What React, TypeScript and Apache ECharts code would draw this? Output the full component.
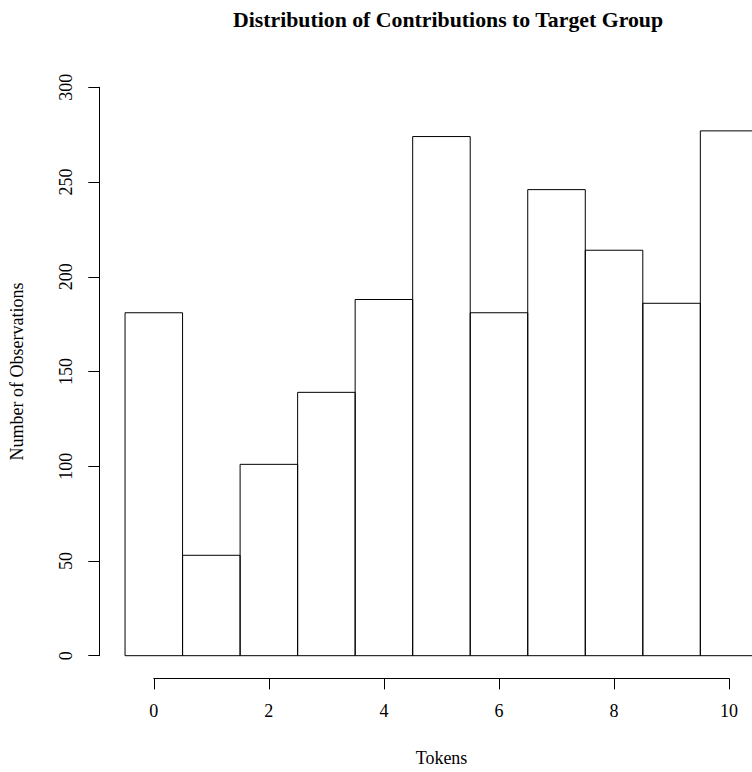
import React, { useEffect, useRef } from "react";
import * as echarts from "echarts";

const tokens = [0, 1, 2, 3, 4, 5, 6, 7, 8, 9, 10];
const counts = [181, 53, 101, 139, 188, 274, 181, 246, 214, 186, 277];
const xTicks = [0, 2, 4, 6, 8, 10];
const yTicks = [0, 50, 100, 150, 200, 250, 300];

const titleText = "Distribution of Contributions to Target Group";
const xLabel = "Tokens";
const yLabel = "Number of Observations";

const FONT = '"Liberation Serif", "Times New Roman", Times, serif';

export default function App() {
  const ref = useRef<HTMLDivElement>(null);

  useEffect(() => {
    if (!ref.current) return;
    const chart = echarts.init(ref.current, undefined, { renderer: "svg" });
    const data = tokens.map((t, i) => [t, counts[i]]);
    chart.setOption({
      animation: false,
      backgroundColor: "#ffffff",
      textStyle: { fontFamily: FONT, color: "#000" },
      grid: { left: 153.8, top: 87.3, width: 575.3, height: 568.4, containLabel: false },
      xAxis: {
        type: "value",
        min: xTicks[0],
        max: xTicks[xTicks.length - 1],
        interval: 2,
        offset: 22.7,
        axisLine: { show: true, onZero: false, lineStyle: { color: "#000", width: 1 } },
        axisTick: { show: true, length: 11, lineStyle: { color: "#000", width: 1 } },
        axisLabel: { show: true, margin: 24, fontSize: 18, fontFamily: FONT, color: "#000" },
        splitLine: { show: false },
      },
      yAxis: {
        type: "value",
        min: yTicks[0],
        max: yTicks[yTicks.length - 1],
        interval: 50,
        offset: 54.5,
        axisLine: { show: true, onZero: false, lineStyle: { color: "#000", width: 1 } },
        axisTick: { show: true, length: 11, lineStyle: { color: "#000", width: 1 } },
        axisLabel: {
          show: true,
          rotate: 90,
          margin: 24,
          fontSize: 18,
          fontFamily: FONT,
          color: "#000",
        },
        splitLine: { show: false },
      },
      graphic: [
        {
          type: "text",
          x: 448,
          y: 20,
          style: {
            text: titleText,
            font: `bold 21.8px ${FONT}`,
            fill: "#000",
            textAlign: "center",
            textVerticalAlign: "middle",
          },
        },
        {
          type: "text",
          x: 441.5,
          y: 758,
          style: {
            text: xLabel,
            font: `18px ${FONT}`,
            fill: "#000",
            textAlign: "center",
            textVerticalAlign: "middle",
          },
        },
        {
          type: "text",
          x: 17,
          y: 371.5,
          rotation: Math.PI / 2,
          style: {
            text: yLabel,
            font: `18px ${FONT}`,
            fill: "#000",
            textAlign: "center",
            textVerticalAlign: "middle",
          },
        },
      ],
      series: [
        {
          type: "custom",
          clip: false,
          data,
          renderItem: (params: any, api: any) => {
            const x = api.value(0);
            const v = api.value(1);
            const p0 = api.coord([x - 0.5, v]);
            const p1 = api.coord([x + 0.5, 0]);
            return {
              type: "rect",
              shape: { x: p0[0], y: p0[1], width: p1[0] - p0[0], height: p1[1] - p0[1] },
              style: { fill: "none", stroke: "#000", lineWidth: 1 },
            };
          },
        },
      ],
    });
    return () => chart.dispose();
  }, []);

  return (
    <div
      ref={ref}
      style={{ position: "fixed", left: 0, top: 0, width: 752, height: 772, background: "#fff" }}
    />
  );
}
